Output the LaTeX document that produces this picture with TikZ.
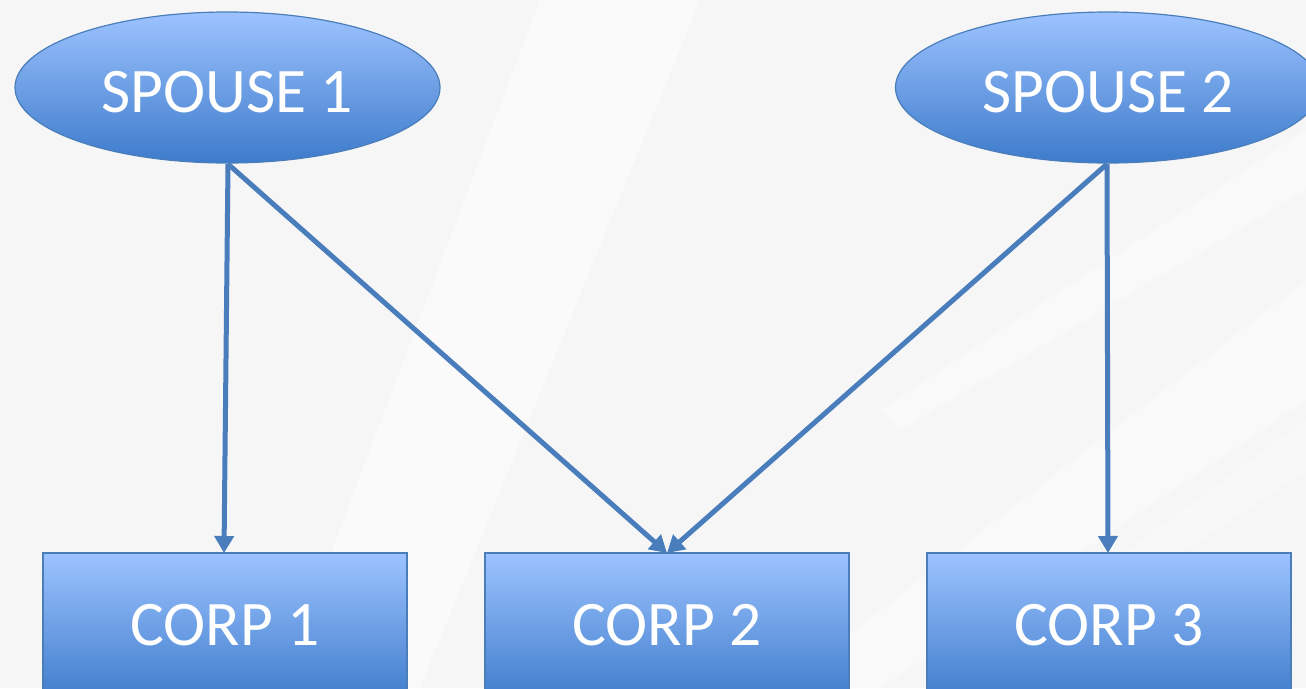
\documentclass[tikz,border=0pt]{standalone}
\usepackage{fontspec}
\setmainfont{Carlito}
\usetikzlibrary{arrows.meta,shapes.geometric}
\definecolor{linkblue}{HTML}{4A7DBB}
\definecolor{shapeedge}{HTML}{4A7EBB}
\definecolor{shadetop}{HTML}{9DC3FF}
\definecolor{shadebot}{HTML}{3D7BCB}
\definecolor{paper}{HTML}{F6F6F6}
\tikzset{
  x=1pt, y=-1pt,
  label text/.style={text=white, font=\fontsize{63.5}{63.5}\selectfont},
  person/.style={ellipse, draw=shapeedge, line width=1.2pt,
    top color=shadetop, bottom color=shadebot,
    minimum width=425pt, minimum height=151pt, inner sep=0pt},
  corp/.style={rectangle, draw=shapeedge, line width=1.2pt,
    top color=shadetop, bottom color=shadebot,
    minimum width=364pt, minimum height=150pt, inner sep=0pt},
  link/.style={draw=linkblue, line width=5pt,
    -{Triangle[length=17pt,width=19pt]}},
}
\begin{document}
\begin{tikzpicture}
\useasboundingbox (0,0) rectangle (1306,688);
\clip (0,0) rectangle (1306,688);
% backdrop with faint light streaks
\fill[paper] (0,0) rectangle (1306,688);
\fill[white, opacity=0.45] (540,0) -- (700,0) -- (420,688) -- (280,688) -- cycle;
\fill[white, opacity=0.35] (1306,280) -- (1306,400) -- (880,688) -- (780,688) -- cycle;
\fill[white, opacity=0.35] (1306,130) -- (1306,190) -- (900,430) -- (880,410) -- cycle;
\fill[white, opacity=0.3] (1306,420) -- (1306,470) -- (980,688) -- (940,688) -- cycle;

% people
\node[person] (s1) at (227.5,87.5) {};
\node[person] (s2) at (1108,87.5) {};
\node[label text] (n1) at (227,92) {SPOUSE 1};
\node[label text] (n2) at (1108,92) {SPOUSE 2};

% companies (boxes run past the lower edge)
\node[corp] (c1) at (225,628) {};
\node[corp] (c2) at (667,628) {};
\node[corp] (c3) at (1109,628) {};
\node[label text] (t1) at (225,625) {CORP 1};
\node[label text] (t2) at (667,625) {CORP 2};
\node[label text] (t3) at (1109,625) {CORP 3};

% ownership links
\coordinate (s1b) at (228,164);
\coordinate (s2b) at (1107,164);
\coordinate (c1t) at (224,553);
\coordinate (c2t) at (667,553);
\coordinate (c3t) at (1108,553);
\draw[link] (s1b) -- (c1t);
\draw[link] (s1b) -- (c2t);
\draw[link] (s2b) -- (c2t);
\draw[link] (s2b) -- (c3t);
\end{tikzpicture}
\end{document}
